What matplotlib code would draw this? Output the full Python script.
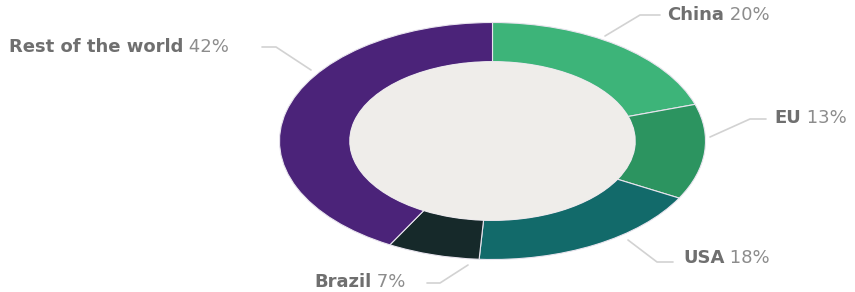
import matplotlib
matplotlib.use("Agg")
import matplotlib.pyplot as plt
from matplotlib.patches import Ellipse

# data (clockwise from 12 o'clock)
regions = ["China", "EU", "USA", "Brazil", "Rest of the world"]
shares = [20, 13, 18, 7, 42]
colors = ["#3db479", "#2c9460", "#126a6a", "#16292a", "#4b2379"]

W, H = 855, 292
fig = plt.figure(figsize=(W / 100, H / 100), dpi=100)
fig.patch.set_facecolor("white")

# donut axes covers the bounding box of the (stretched) ring
cx, cy, rx, ry = 492.5, 141, 213, 118.5
ax = fig.add_axes([(cx - rx) / W, 1 - (cy + ry) / H, 2 * rx / W, 2 * ry / H])
ax.pie(shares, colors=colors, startangle=90, counterclock=False, radius=1,
       wedgeprops=dict(width=0.33, edgecolor="#e8e4ee", linewidth=0.8))
ax.set_aspect("auto")
ax.set_xlim(-1, 1)
ax.set_ylim(-1, 1)
ax.add_patch(Ellipse((0, 0), 1.34, 1.34, facecolor="#efedea", edgecolor="none"))
ax.axis("off")

# overlay in pixel coords for labels and leader lines
lay = fig.add_axes([0, 0, 1, 1])
lay.set_xlim(0, W)
lay.set_ylim(H, 0)
lay.axis("off")

# label anchor (text left x, y) and leader polyline for each region
label_pos = {
    "China": (667, 15, [(605, 36), (640, 15), (660, 15)]),
    "EU": (774, 118, [(710, 137), (750, 119), (766, 119)]),
    "USA": (683, 258, [(628, 240), (657, 262), (673, 262)]),
    "Brazil": (314, 282, [(468, 265), (440, 283), (427, 283)]),
    "Rest of the world": (9, 47, [(311, 70), (276, 47), (262, 47)]),
}

for name, pct in zip(regions, shares):
    tx, ty, pts = label_pos[name]
    xs, ys = zip(*pts)
    lay.plot(xs, ys, color="#d2d2d2", lw=1.2, solid_capstyle="round")
    t = lay.text(tx, ty, name, fontsize=13, fontweight="bold", color="#6f6f6f",
                 family="DejaVu Sans", va="center", ha="left")
    lay.annotate(f" {pct}%", xy=(1, 0.5), xycoords=t, va="center", ha="left",
                 fontsize=13, color="#8c8c8c", family="DejaVu Sans")

fig.savefig("out.png", dpi=100, facecolor="white")
